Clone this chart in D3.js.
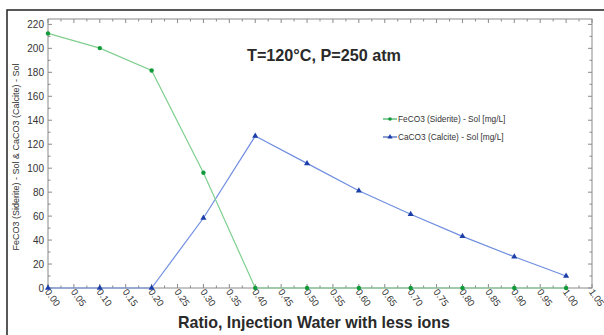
<!DOCTYPE html>
<html>
<head>
<meta charset="utf-8">
<script src="https://cdn.jsdelivr.net/npm/d3@7/dist/d3.min.js"></script>
<style>
  html, body { margin: 0; padding: 0; background: #fff; }
  svg { display: block; font-family: "Liberation Sans", Arial, sans-serif; }
</style>
</head>
<body>
<svg id="chart" width="604" height="335"></svg>
<script>
// Mixing ratio of injection water with fewer ions
const ratios = [0.0, 0.1, 0.2, 0.3, 0.4, 0.5, 0.6, 0.7, 0.8, 0.9, 1.0];
// Solubility, mg/L
const siderite = [212.5, 200.2, 181.5, 96.2, 0, 0, 0, 0, 0, 0, 0];
const calcite  = [0, 0, 0, 58.4, 126.8, 104, 81.2, 61.5, 43.1, 26.1, 10.0];
const yTickValues = [0, 20, 40, 60, 80, 100, 120, 140, 160, 180, 200, 220];
const xTickValues = d3.range(0, 22).map(i => +(i * 0.05).toFixed(2));
const seriesNames = ["FeCO3 (Siderite) - Sol [mg/L]", "CaCO3 (Calcite) - Sol [mg/L]"];

const svg = d3.select("#chart");
const plotLeft = 48, plotRight = 592, plotTop = 19, plotBottom = 288;

const x = d3.scaleLinear().domain([0, 1.05]).range([plotLeft, plotRight]);
const y = d3.scaleLinear().domain([0, 224.5]).range([plotBottom, plotTop]);

// outer frame
svg.append("rect")
  .attr("x", 7).attr("y", 10).attr("width", 620).attr("height", 340)
  .attr("fill", "none").attr("stroke", "#222").attr("stroke-width", 1.5);

const axisColor = "#8a8a8a";

// plot box
svg.append("rect")
  .attr("x", plotLeft).attr("y", plotTop)
  .attr("width", plotRight - plotLeft).attr("height", plotBottom - plotTop)
  .attr("fill", "none").attr("stroke", axisColor).attr("stroke-width", 1);

// inward ticks on all four sides
const yMinor = d3.range(0, 221, 10);
const xMinor = d3.range(0, 43).map(i => i * 0.025);
const tickG = svg.append("g").attr("stroke", axisColor).attr("stroke-width", 1);
yMinor.forEach(v => {
  const len = v % 20 === 0 ? 4 : 2.5;
  tickG.append("line").attr("x1", plotLeft).attr("x2", plotLeft + len).attr("y1", y(v)).attr("y2", y(v));
  tickG.append("line").attr("x1", plotRight).attr("x2", plotRight - len).attr("y1", y(v)).attr("y2", y(v));
});
xMinor.forEach((v, i) => {
  const len = i % 2 === 0 ? 4 : 2.5;
  tickG.append("line").attr("x1", x(v)).attr("x2", x(v)).attr("y1", plotBottom).attr("y2", plotBottom - len);
  tickG.append("line").attr("x1", x(v)).attr("x2", x(v)).attr("y1", plotTop).attr("y2", plotTop + len);
});

// y tick labels
const yAxis = d3.axisLeft(y).tickValues(yTickValues).tickSize(0).tickPadding(4);
const gy = svg.append("g").attr("transform", `translate(${plotLeft},0)`).call(yAxis);
gy.select(".domain").remove();
gy.selectAll("text").attr("font-size", 10).attr("fill", "#333")
  .attr("font-family", "Liberation Sans, Arial, sans-serif");

// x tick labels, rotated
const xAxis = d3.axisBottom(x).tickValues(xTickValues).tickSize(0).tickFormat(d3.format(".2f"));
const gx = svg.append("g").attr("transform", `translate(0,${plotBottom})`).call(xAxis);
gx.select(".domain").remove();
gx.selectAll("text")
  .attr("font-size", 9.5).attr("fill", "#333")
  .attr("font-family", "Liberation Sans, Arial, sans-serif")
  .attr("text-anchor", "start")
  .attr("dy", null)
  .attr("y", 0)
  .attr("transform", "translate(-4,4) rotate(54)");

// series
const ptsFe = ratios.map((r, i) => [r, siderite[i]]);
const ptsCa = ratios.map((r, i) => [r, calcite[i]]);
const line = d3.line().x(d => x(d[0])).y(d => y(d[1]));

const greenLine = "#7fcf8f", greenMark = "#119a3a";
const blueLine = "#6f8ee0", blueMark = "#1b3ea8";

svg.append("path").datum(ptsCa).attr("d", line)
  .attr("fill", "none").attr("stroke", blueLine).attr("stroke-width", 1.2);
svg.append("path").datum(ptsFe).attr("d", line)
  .attr("fill", "none").attr("stroke", greenLine).attr("stroke-width", 1.2);

const tri = d3.symbol().type(d3.symbolTriangle).size(16);
svg.append("g").selectAll("path").data(ptsCa).join("path")
  .attr("d", tri).attr("transform", d => `translate(${x(d[0])},${y(d[1])})`)
  .attr("fill", blueMark);
svg.append("g").selectAll("circle").data(ptsFe).join("circle")
  .attr("cx", d => x(d[0])).attr("cy", d => y(d[1])).attr("r", 2.2)
  .attr("fill", greenMark);

// legend
const legend = svg.append("g");
const legendRows = [
  { name: seriesNames[0], mark: greenMark, shape: "circle", yy: 119 },
  { name: seriesNames[1], mark: blueMark, shape: "triangle", yy: 137 }
];
legendRows.forEach(r => {
  legend.append("line").attr("x1", 383).attr("x2", 397).attr("y1", r.yy).attr("y2", r.yy)
    .attr("stroke", r.mark).attr("stroke-width", 1);
  if (r.shape === "circle") {
    legend.append("circle").attr("cx", 390).attr("cy", r.yy).attr("r", 1.8).attr("fill", r.mark);
  } else {
    legend.append("path").attr("d", d3.symbol().type(d3.symbolTriangle).size(12))
      .attr("transform", `translate(390,${r.yy})`).attr("fill", r.mark);
  }
  legend.append("text").attr("x", 398).attr("y", r.yy).attr("dy", "0.35em")
    .attr("font-size", 8.3).attr("fill", "#333").text(r.name);
});

// title
svg.append("text").attr("x", 247).attr("y", 61)
  .attr("font-size", 17).attr("font-weight", "bold").attr("fill", "#2a2a2a")
  .attr("textLength", 154).attr("lengthAdjust", "spacingAndGlyphs")
  .text("T=120°C, P=250 atm");

// axis titles
svg.append("text").attr("x", 178).attr("y", 328)
  .attr("font-size", 17).attr("font-weight", "bold").attr("fill", "#2a2a2a")
  .attr("textLength", 272).attr("lengthAdjust", "spacingAndGlyphs")
  .text("Ratio, Injection Water with less ions");

svg.append("text")
  .attr("transform", "translate(19,157) rotate(-90)")
  .attr("text-anchor", "middle")
  .attr("font-size", 9).attr("fill", "#333")
  .text("FeCO3 (Siderite) - Sol & CaCO3 (Calcite) - Sol");
</script>
</body>
</html>
